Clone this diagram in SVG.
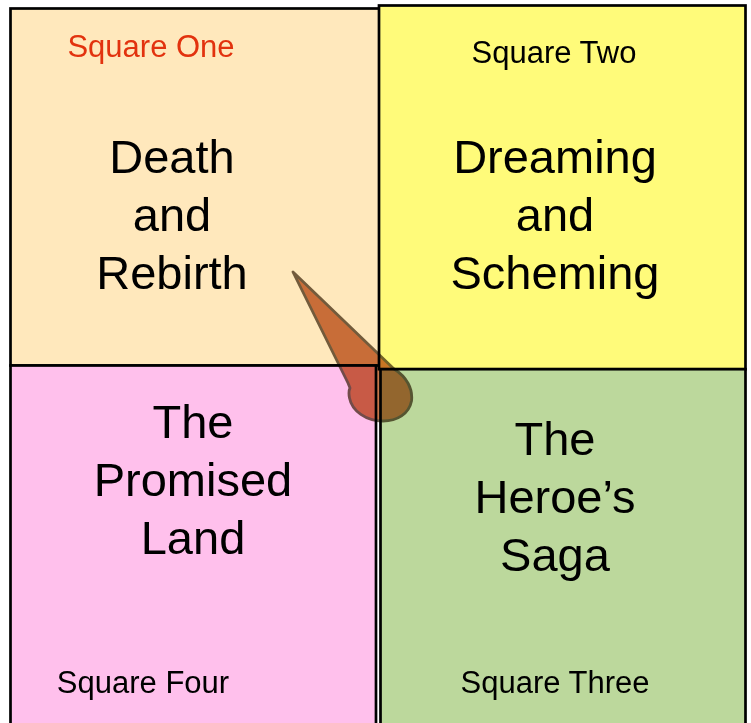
<svg xmlns="http://www.w3.org/2000/svg" width="751" height="723" viewBox="0 0 751 723">
  <style>
    .sq { stroke: #000; stroke-width: 2.7; }
    .big { font-family: "Liberation Sans", Arial, sans-serif; font-size: 47px; fill: #000; text-anchor: middle; }
    .lbl { font-family: "Liberation Sans", Arial, sans-serif; font-size: 31px; fill: #000; text-anchor: middle; }
    .pointer { fill: rgb(200,120,75); stroke: rgb(115,100,80); stroke-width: 2.8; stroke-linejoin: round; mix-blend-mode: multiply; }
  </style>
  <rect width="751" height="723" fill="#fff"/>
  <g id="square-one">
    <rect class="sq" x="10.5" y="8.5" width="369.5" height="357" fill="#FFE8BC"/>
    <text class="lbl" x="151" y="57" fill="#E2320E" style="fill:#E2320E">Square One</text>
    <text class="big" x="172" y="173">Death</text>
    <text class="big" x="172" y="231">and</text>
    <text class="big" x="172" y="289">Rebirth</text>
  </g>
  <g id="square-two">
    <rect class="sq" x="379" y="5.5" width="366.5" height="363.7" fill="#FFFB7A"/>
    <text class="lbl" x="554" y="63">Square Two</text>
    <text class="big" x="555" y="173">Dreaming</text>
    <text class="big" x="555" y="231">and</text>
    <text class="big" x="555" y="289">Scheming</text>
  </g>
  <g id="square-four">
    <rect class="sq" x="10.5" y="365.5" width="365.5" height="370" fill="#FFC0EC"/>
    <text class="big" x="193" y="438">The</text>
    <text class="big" x="193" y="496">Promised</text>
    <text class="big" x="193" y="554">Land</text>
    <text class="lbl" x="143" y="693">Square Four</text>
  </g>
  <g id="square-three">
    <rect class="sq" x="380.5" y="369.2" width="365" height="370" fill="#BCD89C"/>
    <text class="big" x="555" y="455">The</text>
    <text class="big" x="555" y="513">Heroe’s</text>
    <text class="big" x="555" y="571">Saga</text>
    <text class="lbl" x="555" y="693">Square Three</text>
  </g>
  <g id="connectors">
    <path class="pointer" d="M293,272 L394,369 C407,377 413,389 411.5,401 C409,414 397,421 383,421 C366,421 352,411 349.5,398 C348.5,393 349,390 350,388 L348,383 Z"/>
  </g>
</svg>
